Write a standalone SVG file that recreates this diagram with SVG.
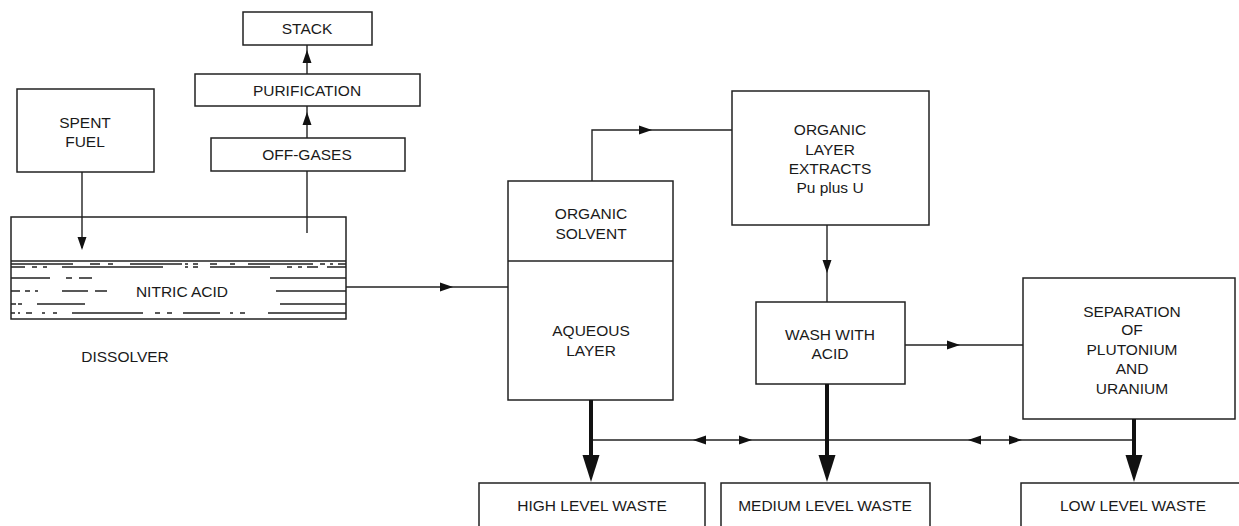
<svg xmlns="http://www.w3.org/2000/svg" xmlns:xlink="http://www.w3.org/1999/xlink" width="1239" height="526" viewBox="0 0 1239 526">
<style>
.box{fill:#fff;stroke:#222;stroke-width:1.5}
.ln{fill:none;stroke:#222;stroke-width:1.4}
.thick{fill:none;stroke:#111;stroke-width:4}
.liq{fill:none;stroke:#222;stroke-width:1.3}
text{font-family:"Liberation Sans",Arial,Helvetica,sans-serif;font-size:15.5px;fill:#1a1a1a;text-anchor:middle}
.head{fill:#111}
</style>
<defs>
<path id="ah" class="head" d="M0,0 L-13,-4.5 L-13,4.5 Z"/>
<path id="ahT" class="head" d="M0,0 L-27,-8.5 L-27,8.5 Z"/>
</defs>

<g id="stack">
  <rect class="box" x="243" y="12" width="129" height="33"/>
  <text x="307" y="34">STACK</text>
</g>
<g id="purification">
  <rect class="box" x="195" y="74" width="225" height="32"/>
  <text x="307" y="95.5">PURIFICATION</text>
</g>
<g id="off-gases">
  <rect class="box" x="211" y="138" width="194" height="33"/>
  <text x="307" y="160">OFF-GASES</text>
</g>
<g id="spent-fuel">
  <rect class="box" x="17" y="89" width="137" height="83"/>
  <text x="85" y="127.5">SPENT</text>
  <text x="85" y="146.5">FUEL</text>
</g>

<g id="dissolver">
  <rect class="box" x="11" y="217" width="335" height="102"/>
  <line class="liq" x1="11" y1="261" x2="346" y2="261"/>
  <path class="liq" d="M11,264H73M90,264H100M108,264H113M130,264H182M185,264H188M193,264H198M210,264H217M230,264H235M248,264H313M320,264H325M330,264H333M338,264H346"/>
  <path class="liq" d="M11,267H25M32,267H37M43,267H47M62,267H163M185,267H188M193,267H198M210,267H270M287,267H292M298,267H302M307,267H318M327,267H346"/>
  <path class="liq" d="M11,278H50M66,278H72M79,278H92M270,278H346"/>
  <path class="liq" d="M11,291H20M25,291H30M35,291H38M62,291H88M95,291H107M276,291H346"/>
  <path class="liq" d="M11,304H16M18,304H22M37,304H85M280,304H346"/>
  <path class="liq" d="M11,313H15M18,313H20M26,313H32M42,313H45M53,313H57M72,313H143M155,313H160M167,313H172M183,313H220M230,313H233M240,313H245M268,313H346"/>
  <text x="182" y="296.5">NITRIC ACID</text>
  <text x="125" y="362">DISSOLVER</text>
</g>

<g id="solvent-layer">
  <rect class="box" x="508" y="181" width="165" height="219"/>
  <line class="ln" x1="508" y1="261" x2="673" y2="261"/>
  <text x="591" y="218.5">ORGANIC</text>
  <text x="591" y="238.5">SOLVENT</text>
  <text x="591" y="335.5">AQUEOUS</text>
  <text x="591" y="355.5">LAYER</text>
</g>

<g id="organic-layer-extracts">
  <rect class="box" x="732" y="91" width="197" height="134"/>
  <text x="830" y="134.5">ORGANIC</text>
  <text x="830" y="154.5">LAYER</text>
  <text x="830" y="173.5">EXTRACTS</text>
  <text x="830" y="192.5">Pu plus U</text>
</g>

<g id="wash-with-acid">
  <rect class="box" x="756" y="302" width="149" height="82"/>
  <text x="830" y="339.5">WASH WITH</text>
  <text x="830" y="358.5">ACID</text>
</g>

<g id="separation">
  <rect class="box" x="1023" y="278" width="212" height="141"/>
  <text x="1132" y="316.5">SEPARATION</text>
  <text x="1132" y="335">OF</text>
  <text x="1132" y="354.5">PLUTONIUM</text>
  <text x="1132" y="373.5">AND</text>
  <text x="1132" y="393.5">URANIUM</text>
</g>

<g id="high-level-waste">
  <rect class="box" x="479" y="483" width="226" height="60"/>
  <text x="592" y="510.5">HIGH LEVEL WASTE</text>
</g>
<g id="medium-level-waste">
  <rect class="box" x="721" y="483" width="209" height="60"/>
  <text x="825" y="511">MEDIUM LEVEL WASTE</text>
</g>
<g id="low-level-waste">
  <rect class="box" x="1021" y="483" width="230" height="60"/>
  <text x="1133" y="510.5">LOW LEVEL WASTE</text>
</g>

<g id="connectors">
  <line class="ln" x1="82" y1="172" x2="82" y2="248"/>
  <use xlink:href="#ah" transform="translate(82,250) rotate(90)"/>
  <line class="ln" x1="307" y1="233" x2="307" y2="171"/>
  <line class="ln" x1="307" y1="138" x2="307" y2="106"/>
  <use xlink:href="#ah" transform="translate(307,112) rotate(-90)"/>
  <line class="ln" x1="307" y1="74" x2="307" y2="45"/>
  <use xlink:href="#ah" transform="translate(307,50) rotate(-90)"/>
  <line class="ln" x1="346" y1="287" x2="508" y2="287"/>
  <use xlink:href="#ah" transform="translate(453,287)"/>
  <polyline class="ln" points="592,181 592,130 732,130"/>
  <use xlink:href="#ah" transform="translate(652,130)"/>
  <line class="ln" x1="827" y1="225" x2="827" y2="302"/>
  <use xlink:href="#ah" transform="translate(827,273) rotate(90)"/>
  <line class="ln" x1="905" y1="345" x2="1023" y2="345"/>
  <use xlink:href="#ah" transform="translate(960,345)"/>
  <line class="ln" x1="591" y1="440" x2="1134" y2="440"/>
  <use xlink:href="#ah" transform="translate(693,440) rotate(180)"/>
  <use xlink:href="#ah" transform="translate(752,440)"/>
  <use xlink:href="#ah" transform="translate(968,440) rotate(180)"/>
  <use xlink:href="#ah" transform="translate(1022,440)"/>
  <line class="thick" x1="591" y1="400" x2="591" y2="458"/>
  <use xlink:href="#ahT" transform="translate(591,482) rotate(90)"/>
  <line class="thick" x1="827" y1="384" x2="827" y2="458"/>
  <use xlink:href="#ahT" transform="translate(827,482) rotate(90)"/>
  <line class="thick" x1="1134" y1="419" x2="1134" y2="458"/>
  <use xlink:href="#ahT" transform="translate(1134,482) rotate(90)"/>
</g>
</svg>
